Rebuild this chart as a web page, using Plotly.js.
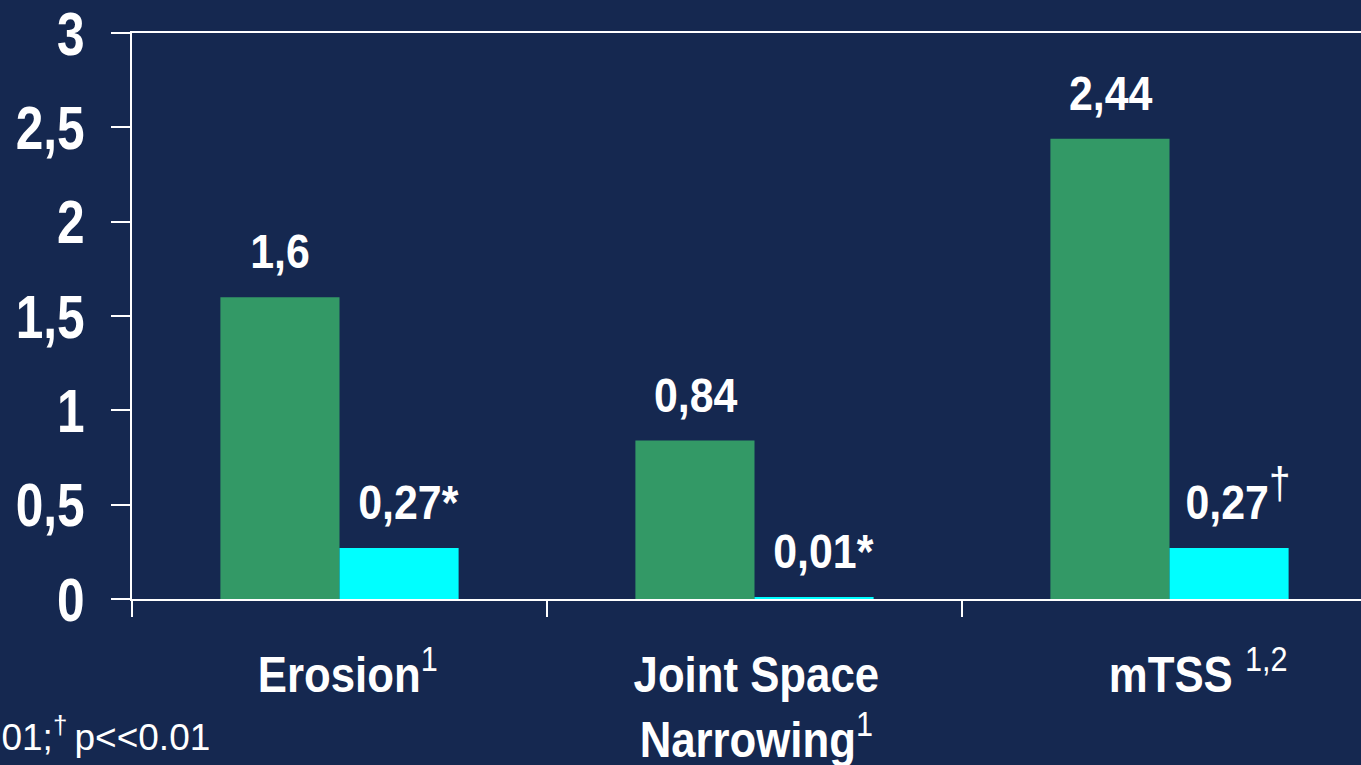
<!DOCTYPE html>
<html>
<head>
<meta charset="utf-8">
<script src="https://cdn.plot.ly/plotly-3.0.1.min.js"></script>
<style>
  html, body { margin: 0; padding: 0; background: #152850; overflow: hidden; }
  #chart { width: 1400px; height: 765px; }
</style>
</head>
<body>
<div id="chart"></div>
<script>
// Radiographic progression by score component
const categories = ['Erosion', 'Joint Space Narrowing', 'mTSS'];
const categoryLabels = [
  'Erosion<sup><span style="font-weight:normal">1</span></sup>',
  'Joint Space<br>Narrowing<sup><span style="font-weight:normal">1</span></sup>',
  'mTSS <sup><span style="font-weight:normal">1,2</span></sup>'
];
const controlValues = [1.6, 0.84, 2.44];
const treatedValues = [0.27, 0.01, 0.27];
const treatedMarks = ['*', '*', '<sup><span style="font-weight:normal;font-size:44px">†</span></sup>'];
const yTickValues = [0, 0.5, 1, 1.5, 2, 2.5, 3];
const footnote = '*p<0.01;<sup>† </sup>p<<0.01';

const BG = '#152850';
const GREEN = '#339966';
const CYAN = '#00FFFF';
const BOLD = '"Liberation Sans", Arial, sans-serif';

const fmt = v => String(v).replace('.', ',');

const traces = [
  {
    type: 'bar', name: 'Control', x: categories, y: controlValues,
    marker: { color: GREEN, line: { width: 0 } }, hoverinfo: 'skip'
  },
  {
    type: 'bar', name: 'Treated', x: categories, y: treatedValues,
    marker: { color: CYAN, line: { width: 0 } }, hoverinfo: 'skip'
  }
];

const barOffset = 59.5;
const labelShiftX = [8, 2, 28];
const labelShiftY = [5, -3, 5];
const annotations = [];
categories.forEach((c, i) => {
  annotations.push({
    x: c, y: controlValues[i], xref: 'x', yref: 'y',
    text: fmt(controlValues[i]), showarrow: false,
    xanchor: 'center', yanchor: 'bottom', xshift: -barOffset, yshift: 17,
    font: { family: BOLD, size: 49, color: '#ffffff', weight: 'bold' }
  });
  annotations.push({
    x: c, y: treatedValues[i], xref: 'x', yref: 'y',
    text: fmt(treatedValues[i]) + treatedMarks[i], showarrow: false,
    xanchor: 'center', yanchor: 'bottom', xshift: barOffset + 9, yshift: 17,
    font: { family: BOLD, size: 49, color: '#ffffff', weight: 'bold' }
  });
  annotations.push({
    x: c, y: -0.076, xref: 'x', yref: 'paper',
    text: categoryLabels[i], showarrow: false, align: 'center',
    xanchor: 'center', yanchor: 'top', xshift: labelShiftX[i], yshift: labelShiftY[i],
    font: { family: BOLD, size: 50, color: '#ffffff', weight: 'bold' }
  });
});
annotations.push({
  xref: 'paper', yref: 'paper', x: 0.0643, y: -0.24,
  xanchor: 'right', yanchor: 'middle', showarrow: false,
  text: footnote,
  font: { family: BOLD, size: 37, color: '#ffffff' }
});

const layout = {
  width: 1400, height: 765,
  paper_bgcolor: BG, plot_bgcolor: BG,
  margin: { l: 132, r: 23, t: 33, b: 166, pad: 0 },
  showlegend: false,
  separators: ',.',
  barmode: 'group', bargap: 0.426, bargroupgap: 0,
  xaxis: {
    type: 'category', range: [-0.5, 2.5],
    tickvals: categories, showticklabels: false,
    showline: true, mirror: true, linecolor: '#ffffff', linewidth: 2,
    ticks: 'outside', tickson: 'boundaries', ticklen: 16, tickwidth: 2, tickcolor: '#ffffff',
    showgrid: false, zeroline: false
  },
  yaxis: {
    range: [0, 3], tickvals: yTickValues,
    showline: true, linecolor: '#ffffff', linewidth: 2,
    ticks: 'outside', ticklen: 19, tickwidth: 2, tickcolor: '#ffffff',
    showgrid: false, zeroline: false,
    ticklabeloverflow: 'allow',
    tickfont: { family: BOLD, size: 62, color: '#ffffff', weight: 'bold' },
    ticklabelstandoff: 14
  },
  annotations: annotations
};

// Narrow the bold lettering horizontally, keeping each text's anchor in place
function condense(nodes, factor, anchor) {
  nodes.forEach(t => {
    const g = document.createElementNS('http://www.w3.org/2000/svg', 'g');
    t.parentNode.insertBefore(g, t);
    g.appendChild(t);
    const bb = g.getBBox();
    const cx = anchor === 'end' ? bb.x + bb.width : bb.x + bb.width / 2;
    g.setAttribute('transform',
      'translate(' + cx + ',0) scale(' + factor + ',1) translate(' + (-cx) + ',0)');
  });
}

Plotly.newPlot('chart', traces, layout, { staticPlot: true, displayModeBar: false }).then(gd => {
  condense(Array.from(gd.querySelectorAll('.ytick text')), 0.8, 'end');
  const notes = Array.from(gd.querySelectorAll('text.annotation-text'))
    .filter(t => t.textContent.indexOf('p<') === -1);
  condense(notes, 0.875, 'middle');
});
</script>
</body>
</html>
